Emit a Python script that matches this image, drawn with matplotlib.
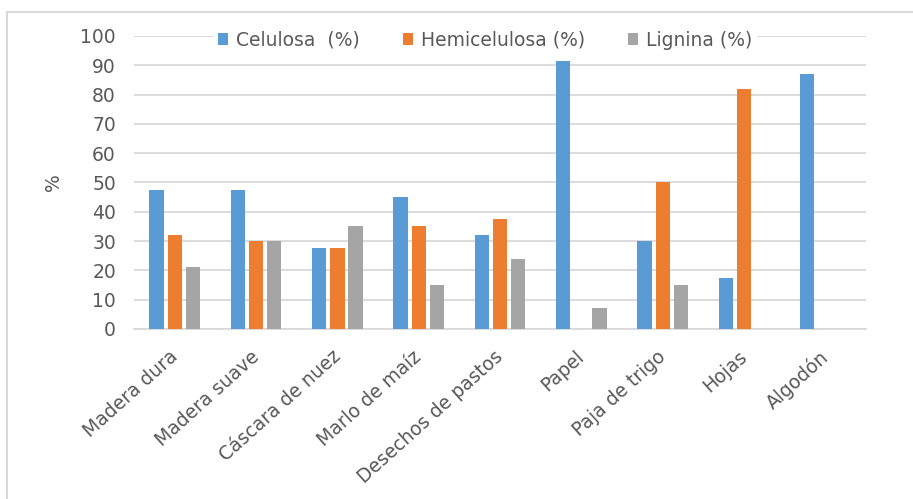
import numpy as np
import matplotlib.pyplot as plt
import matplotlib.transforms as mtransforms
from matplotlib.lines import Line2D

CATEGORIES = ['Madera dura', 'Madera suave', 'Cáscara de nuez', 'Marlo de maíz',
              'Desechos de pastos', 'Papel', 'Paja de trigo', 'Hojas', 'Algodón']
CELULOSA = [47.5, 47.5, 27.5, 45, 32, 91.5, 30, 17.5, 87]
HEMICELULOSA = [32, 30, 27.5, 35, 37.5, 0, 50, 82, 0]
LIGNINA = [21, 30, 35, 15, 24, 7, 15, 0, 0]
SERIES = ['Celulosa  (%)', 'Hemicelulosa (%)', 'Lignina (%)']
COLORS = ['#5B9BD5', '#ED7D31', '#A5A5A5']

TXT = '#595959'
GRID = '#D9D9D9'
plt.rcParams['font.family'] = ['DejaVu Sans']

fig = plt.figure(figsize=(9.13, 4.99), dpi=100)
ax = fig.add_axes([0.1468, 0.3407, 0.8017, 0.5872])

x = np.arange(len(CATEGORIES))
w = 0.176
step = 0.225
for i, (vals, lab, col) in enumerate(zip([CELULOSA, HEMICELULOSA, LIGNINA], SERIES, COLORS)):
    ax.bar(x + (i - 1) * step, vals, width=w, color=col, label=lab, zorder=3)

ax.set_xlim(-0.5, len(CATEGORIES) - 0.5)
ax.set_ylim(0, 100)
ax.set_yticks(np.arange(0, 101, 10))
ax.yaxis.grid(True, color=GRID, linewidth=1.3, zorder=0)
ax.set_axisbelow(True)
for s in ['top', 'right', 'left']:
    ax.spines[s].set_visible(False)
ax.spines['bottom'].set_color(GRID)
ax.spines['bottom'].set_linewidth(1.3)
ax.tick_params(axis='y', length=0, pad=13, labelsize=13.5, labelcolor=TXT)
ax.tick_params(axis='x', length=0, pad=13, labelsize=13.5, labelcolor=TXT)
ax.set_xticks(x)
ax.set_xticklabels(CATEGORIES, rotation=42, ha='right', rotation_mode='anchor')
shift = mtransforms.ScaledTranslation(-6 / 100, 0, fig.dpi_scale_trans)
for lbl in ax.get_xticklabels():
    lbl.set_transform(lbl.get_transform() + shift)

fig.text(53 / 913, 1 - 182 / 499, '%', rotation=90, ha='center', va='center',
         fontsize=13.5, color=TXT)

leg = fig.legend(loc='center', bbox_to_anchor=(485 / 913, 1 - 40 / 499), ncol=3,
                 frameon=True, fontsize=13.5, handlelength=0.55, handleheight=0.55,
                 handletextpad=0.4, columnspacing=2.3, borderpad=0.2)
leg.get_frame().set_edgecolor('white')
leg.get_frame().set_facecolor('white')
leg.get_frame().set_alpha(1)
for t in leg.get_texts():
    t.set_color(TXT)

# outer chart border
fig.add_artist(Line2D([7 / 913, 1], [1 - 12 / 499] * 2, color=GRID, linewidth=1.5))
fig.add_artist(Line2D([7 / 913] * 2, [0, 1 - 12 / 499], color=GRID, linewidth=1.5))

fig.savefig('out.png', dpi=100)
